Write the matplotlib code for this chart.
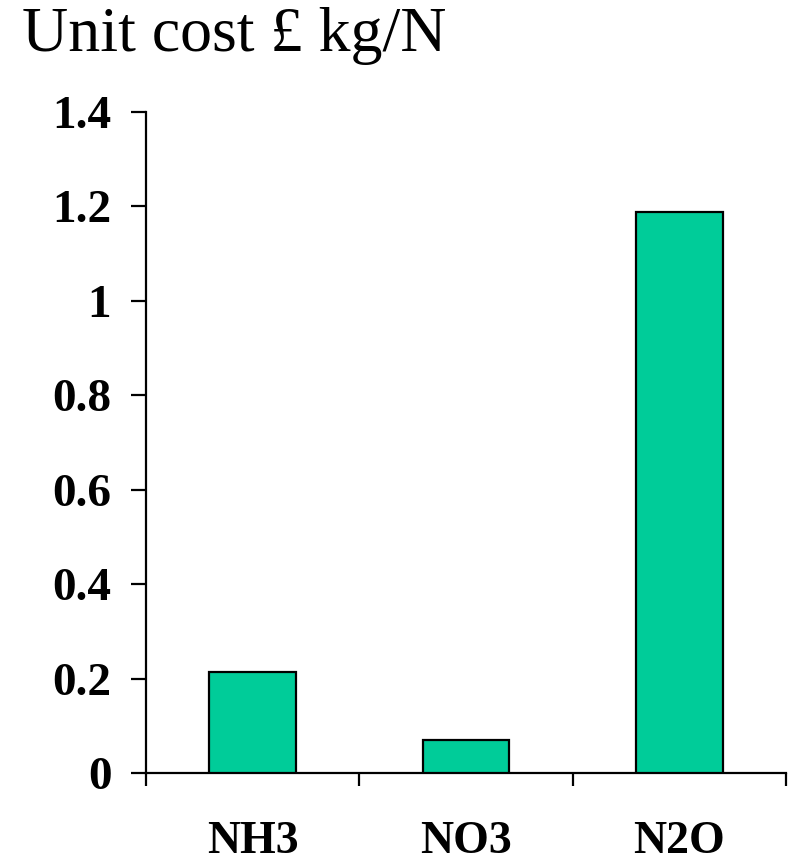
import matplotlib
matplotlib.use("Agg")
import matplotlib.pyplot as plt
import numpy as np

categories = ["NH3", "NO3", "N2O"]
unit_cost = [0.215, 0.071, 1.188]
y_ticks = [0, 0.2, 0.4, 0.6, 0.8, 1.0, 1.2, 1.4]
y_tick_labels = ["0", "0.2", "0.4", "0.6", "0.8", "1", "1.2", "1.4"]

plt.rcParams["font.family"] = ["Liberation Serif", "DejaVu Serif"]

fig = plt.figure(figsize=(7.88, 8.61), dpi=100)
ax = fig.add_axes([0.1853, 0.1018, 0.8122, 0.7685])

x = np.arange(len(categories))
ax.bar(x, unit_cost, width=0.405, color="#00CC99", edgecolor="black",
       linewidth=1.6, zorder=3)

ax.set_xlim(-0.5, len(categories) - 0.5)
ax.set_ylim(0, 1.4)

for side in ("top", "right"):
    ax.spines[side].set_visible(False)
for side in ("left", "bottom"):
    ax.spines[side].set_linewidth(1.6)

ax.set_yticks(y_ticks)
ax.set_yticklabels(y_tick_labels, fontsize=34, fontweight="bold")
ax.tick_params(axis="y", direction="out", length=11, width=1.6, pad=14)

# Category labels sit between boundary ticks
ax.set_xticks(x)
ax.set_xticklabels(categories, fontsize=33, fontweight="bold")
ax.tick_params(axis="x", which="major", length=0, pad=34)
ax.set_xticks(np.arange(-0.5, len(categories)), minor=True)
ax.tick_params(axis="x", which="minor", direction="out", length=9.5, width=1.6)

fig.text(0.028, 0.941, "Unit cost £ kg/N", fontsize=46, va="baseline", ha="left")

fig.savefig("out.png", dpi=100)
